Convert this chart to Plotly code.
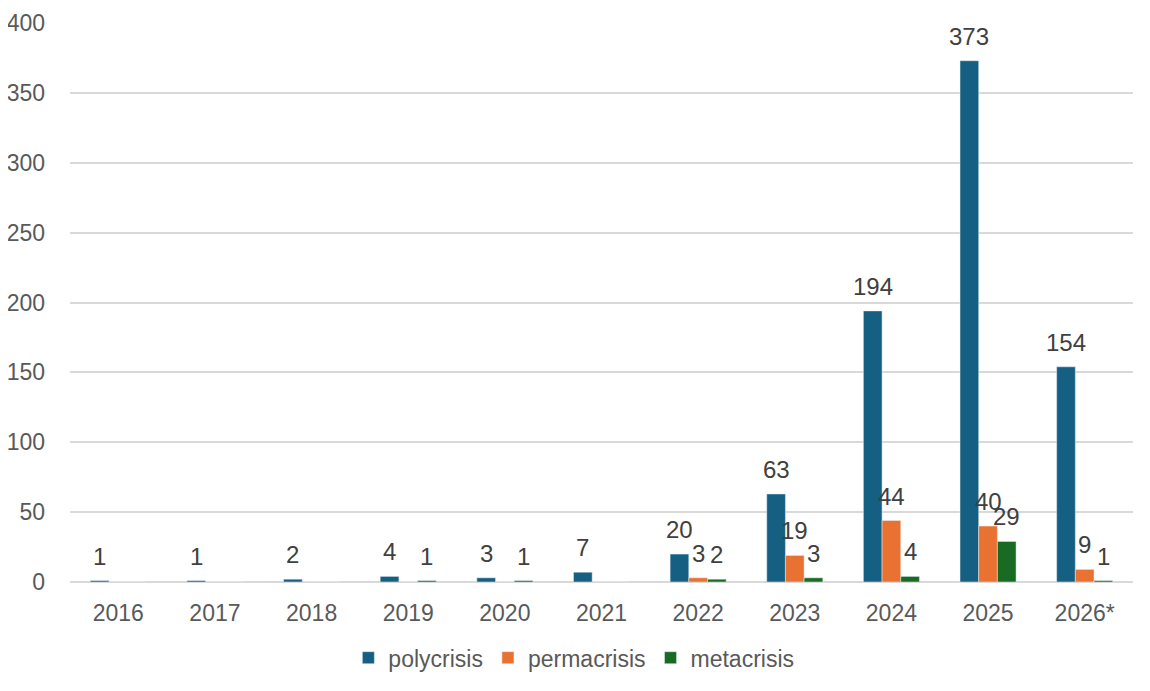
import plotly.graph_objects as go

years = ["2016", "2017", "2018", "2019", "2020", "2021", "2022", "2023", "2024", "2025", "2026*"]
polycrisis = [1, 1, 2, 4, 3, 7, 20, 63, 194, 373, 154]
permacrisis = [0, 0, 0, 0, 0, 0, 3, 19, 44, 40, 9]
metacrisis = [0, 0, 0, 1, 1, 0, 2, 3, 4, 29, 1]

series = [
    ("polycrisis", polycrisis, "#156082"),
    ("permacrisis", permacrisis, "#E97132"),
    ("metacrisis", metacrisis, "#196B24"),
]

FONT = "Liberation Sans"
W, H = 1142, 683
ML, MR, MT, MB = 62, 17, 15, 109
BARGAP = 0.42
cat_px = (W - ML - MR) / len(years)
bar_px = cat_px * (1 - BARGAP) / len(series)

fig = go.Figure()
annotations = []
for i, (name, vals, color) in enumerate(series):
    fig.add_trace(go.Bar(x=years, y=vals, name=name, marker_color=color))
    for j, v in enumerate(vals):
        if v:
            annotations.append(dict(
                x=j, y=v, xref="x", yref="y", text=str(v), showarrow=False,
                xanchor="center", yanchor="bottom",
                xshift=(i - (len(series) - 1) / 2) * bar_px, yshift=9,
                font=dict(family=FONT, size=24, color="#404040"),
            ))

fig.update_layout(
    width=W, height=H,
    margin=dict(l=ML, r=MR, t=MT, b=MB),
    paper_bgcolor="white", plot_bgcolor="white",
    barmode="group", bargap=BARGAP, bargroupgap=0,
    font=dict(family=FONT, size=23, color="#595959"),
    annotations=annotations,
    legend=dict(orientation="h", x=0.474, xanchor="center", y=-0.097, yanchor="top",
                font=dict(size=23, color="#595959"), itemwidth=30, traceorder="normal"),
    xaxis=dict(type="category", categoryorder="array", categoryarray=years,
               range=[-0.5, len(years) - 0.5],
               showgrid=False, showline=False, ticks="", automargin=False,
               tickfont=dict(size=23, color="#595959"), ticklabelstandoff=15),
    yaxis=dict(range=[0, 400], dtick=50, showgrid=True, gridcolor="#D9D9D9", gridwidth=1.5,
               zeroline=True, zerolinecolor="#D9D9D9", zerolinewidth=1.5, automargin=False,
               ticks="", tickfont=dict(size=23, color="#595959"), ticklabelstandoff=24),
)

fig.write_html("out.html")
